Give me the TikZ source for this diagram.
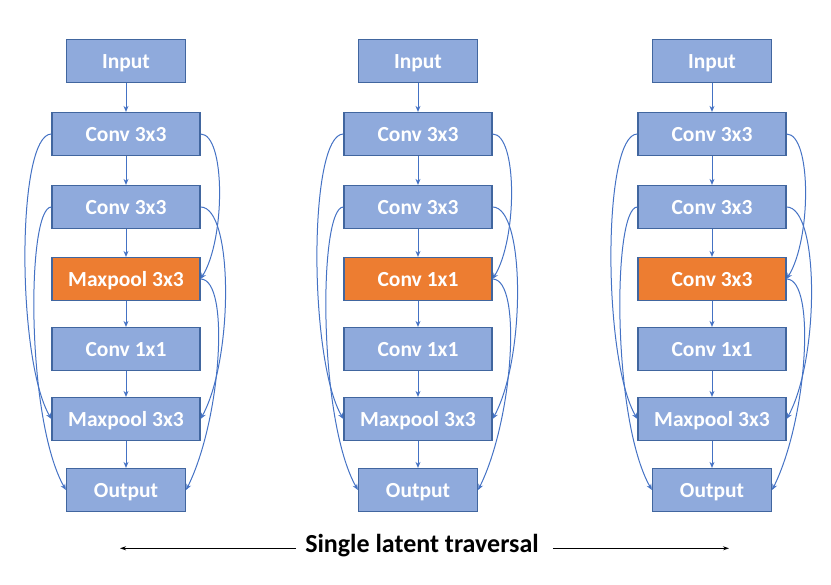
\documentclass[tikz,border=0pt]{standalone}
\usepackage{fontspec}
\setmainfont{Carlito}
\usetikzlibrary{arrows.meta}
\definecolor{boxblue}{HTML}{8FAADC}
\definecolor{boxorange}{HTML}{ED7D31}
\definecolor{edgeblue}{HTML}{41669F}
\definecolor{linkblue}{HTML}{4472C4}
\tikzset{
  blk/.style={draw=edgeblue, line width=1.2pt, fill=boxblue, minimum width=148pt, minimum height=43pt, inner sep=0pt,
    text height=19pt, text depth=4pt,
    text=white, font=\fontsize{21.5}{25}\selectfont\bfseries},
  blksmall/.style={blk, minimum width=119pt},
  blkhot/.style={blk, fill=boxorange},
  link/.style={draw=linkblue, line width=1pt, -{Stealth[length=6pt,width=5pt]}},
  travarrow/.style={draw=black, line width=1pt, -{Stealth[length=6pt,width=4pt]}}
}
\begin{document}
\begin{tikzpicture}[x=1pt,y=-1pt]
\useasboundingbox (0,0) rectangle (831,585);
\foreach \cx/\p/\hotlabel in {126/L/Maxpool 3x3, 418/C/Conv 1x1, 712/R/Conv 3x3}{
  \node[blksmall] (\p in) at (\cx,61) {Input};
  \node[blk] (\p c1) at (\cx,134) {Conv 3x3};
  \node[blk] (\p c2) at (\cx,207) {Conv 3x3};
  \node[blkhot] (\p h) at (\cx,279) {\hotlabel};
  \node[blk] (\p c3) at (\cx,349) {Conv 1x1};
  \node[blk] (\p mp) at (\cx,419) {Maxpool 3x3};
  \node[blksmall] (\p out) at (\cx,490) {Output};
  \draw[link] (\p in) -- (\p c1);
  \draw[link] (\p c1) -- (\p c2);
  \draw[link] (\p c2) -- (\p h);
  \draw[link] (\p h) -- (\p c3);
  \draw[link] (\p c3) -- (\p mp);
  \draw[link] (\p mp) -- (\p out);
  % left skips
  \draw[link] (\p c1.west) .. controls +(-35,0) and +(-35,-60) .. (\p mp.west);
  \draw[link] (\p c2.west) .. controls +(-25,0) and +(-40,-70) .. (\p out.west);
  % right skips
  \draw[link] (\p c1.east) .. controls +(25,0) and +(25,-40) .. (\p h.east);
  \draw[link] (\p c2.east) .. controls +(33,0) and +(33,-60) .. (\p mp.east);
  \draw[link] (\p h.east) .. controls +(30,0) and +(35,-70) .. (\p out.east);
}
\node[font=\fontsize{26}{30}\selectfont\bfseries, inner sep=0pt] (trav) at (422,546) {Single latent traversal};
\coordinate (travL) at (120,548.3);
\coordinate (travR) at (729,548.3);
\draw[travarrow] (trav.west |- travL) ++(-9,0) -- (travL);
\draw[travarrow] (trav.east |- travR) ++(14,0) -- (travR);
\end{tikzpicture}
\end{document}
